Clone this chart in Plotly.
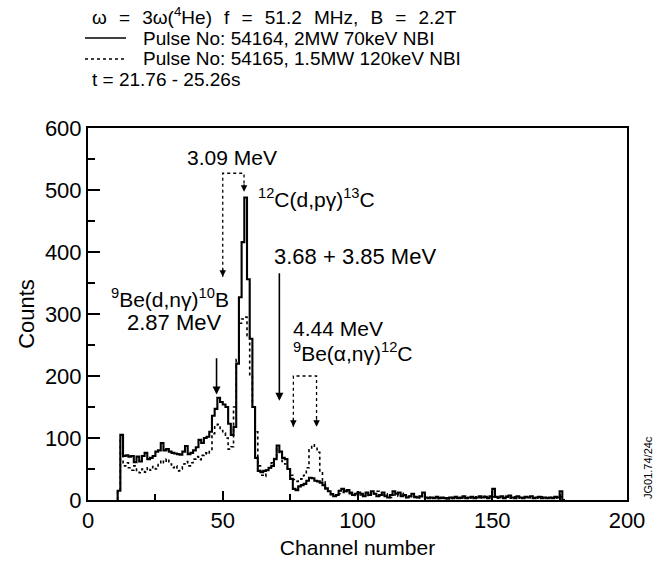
import plotly.graph_objects as go

# ---------------- data ----------------
channels = list(range(11, 177))

pulse_54164 = [
    15, 105, 71, 72, 70, 71, 61, 70, 62, 71,
    76, 66, 68, 71, 78, 80, 92, 80, 82, 78,
    76, 75, 74, 73, 78, 87, 74, 76, 80, 85,
    97, 92, 100, 102, 110, 136, 147, 165, 158, 154,
    150, 123, 105, 118, 220, 327, 416, 488, 356, 260,
    150, 68, 47, 45, 47, 48, 52, 55, 66, 88,
    78, 68, 66, 50, 34, 18, 16, 22, 24, 26,
    31, 36, 35, 31, 30, 28, 24, 19, 14, 9,
    6, 8, 15, 18, 14, 16, 12, 8, 10, 12,
    10, 6, 12, 8, 14, 10, 6, 8, 12, 6,
    4, 8, 14, 10, 12, 6, 8, 4, 6, 10,
    5, 4, 6, 12, 4, 3, 4, 3, 5, 3,
    4, 3, 2, 4, 3, 5, 3, 4, 6, 3,
    4, 5, 3, 4, 6, 4, 5, 3, 6, 18,
    5, 4, 6, 3, 5, 7, 4, 3, 6, 4,
    3, 5, 4, 6, 3, 4, 5, 3, 4, 3,
    4, 3, 5, 4, 14, 0,
]

pulse_54165 = [
    15, 100, 55, 60, 52, 48, 55, 46, 44, 50,
    45, 52, 48, 54, 50, 60, 64, 60, 66, 58,
    52, 55, 47, 50, 58, 62, 55, 60, 66, 70,
    65, 72, 76, 74, 80, 107, 118, 122, 112, 108,
    100, 82, 86, 150, 227, 285, 292, 295, 265, 200,
    150, 110, 55, 40, 38, 48, 52, 60, 70, 82,
    75, 62, 58, 48, 40, 33, 30, 32, 34, 40,
    52, 81, 89, 85, 77, 47, 31, 18, 14, 10,
    8, 6, 10, 12, 16, 12, 10, 8, 6, 10,
    8, 10, 6, 12, 8, 10, 14, 6, 8, 10,
    6, 4, 8, 10, 6, 12, 8, 4, 6, 5,
    4, 6, 3, 8, 4, 3, 5, 3, 4, 2,
    3, 4, 3, 2, 4, 3, 4, 3, 5, 3,
    3, 4, 5, 3, 4, 3, 6, 4, 3, 5,
    4, 3, 5, 4, 6, 3, 4, 5, 3, 4,
    5, 3, 4, 6, 3, 4, 3, 5, 4, 3,
    4, 3, 4, 3, 5, 0,
]

x_ticks = [0, 50, 100, 150, 200]
y_ticks = [0, 100, 200, 300, 400, 500, 600]

title_lines = [
    "ω = 3ω(<sup>4</sup>He) f = 51.2 MHz, B = 2.2T",
    "Pulse No: 54164, 2MW 70keV NBI",
    "Pulse No: 54165, 1.5MW 120keV NBI",
    "t = 21.76 - 25.26s",
]

# peak labels: (text, channel, counts, xanchor, font size)
peak_labels = [
    ("3.09 MeV", 53.4, 552, "center", 21),
    ("<sup>12</sup>C(d,pγ)<sup>13</sup>C", 62.5, 487, "left", 21),
    ("3.68 + 3.85 MeV", 68.3, 392, "left", 22),
    ("<sup>9</sup>Be(d,nγ)<sup>10</sup>B", 30.4, 326, "center", 21),
    ("2.87 MeV", 32.0, 287, "center", 22),
    ("4.44 MeV", 75.4, 277, "left", 21),
    ("<sup>9</sup>Be(α,nγ)<sup>12</sup>C", 75.4, 239, "left", 21),
]
# solid arrows: (channel, from counts, to counts)
solid_arrows = [(47.7, 231, 170), (71.0, 368, 160)]
# dotted brackets: (left ch, right ch, top, left tip, right tip)
brackets = [(50.0, 57.9, 527, 360, 497), (76.2, 84.8, 200, 118, 118)]


def steps(xv, yv):
    return [xv[0]] + xv + [xv[-1] + 1], [0] + yv + [0]


FONT = "Liberation Sans, Arial, sans-serif"
fig = go.Figure()

sx, sy = steps(channels, pulse_54165)
fig.add_trace(go.Scatter(x=sx, y=sy, mode="lines", line_shape="hv",
                         line=dict(color="black", width=1.6, dash="dot"),
                         name=title_lines[2], showlegend=False))
sx, sy = steps(channels, pulse_54164)
fig.add_trace(go.Scatter(x=sx, y=sy, mode="lines", line_shape="hv",
                         line=dict(color="black", width=2.1),
                         name=title_lines[1], showlegend=False))

W, H = 657, 561
ML, MR, MT, MB = 88, 30, 128, 61
PW, PH = W - ML - MR, H - MT - MB


def px(xp):
    return (xp - ML) / PW


def py(yp):
    return (H - MB - yp) / PH


annotations = []
shapes = []

# header text (line 1 is widely spaced in the reference)
wide = title_lines[0].replace(" ", "\u00a0\u00a0\u200a")
header_rows = [(90, 16, wide), (141, 38, title_lines[1]),
               (141, 59, title_lines[2]), (90, 80, title_lines[3])]
for xpx, ypx, txt in header_rows:
    annotations.append(dict(text=txt, xref="paper", yref="paper", x=px(xpx), y=py(ypx),
                            xanchor="left", yanchor="middle", showarrow=False,
                            font=dict(size=19, color="black", family=FONT)))
shapes.append(dict(type="line", xref="paper", yref="paper", x0=px(85), x1=px(126),
                   y0=py(38), y1=py(38), line=dict(color="black", width=1.4)))
shapes.append(dict(type="line", xref="paper", yref="paper", x0=px(85), x1=px(126),
                   y0=py(59), y1=py(59), line=dict(color="black", width=1.4, dash="dot")))

for txt, cx, cy, anc, fs in peak_labels:
    annotations.append(dict(text=txt, x=cx, y=cy, xanchor=anc, yanchor="middle",
                            showarrow=False, font=dict(size=fs, color="black", family=FONT)))

for ch, y0, y1 in solid_arrows:
    annotations.append(dict(text="", x=ch, y=y1, ax=ch, ay=y0, axref="x", ayref="y",
                            showarrow=True, arrowhead=2, arrowsize=1, arrowwidth=1.6,
                            arrowcolor="black"))

for xl, xr, top, tl, tr in brackets:
    shapes.append(dict(type="path", path=f"M {xl},{tl} V {top} H {xr} V {tr}",
                       line=dict(color="black", width=1.3, dash="dot")))
    for ch, tip in ((xl, tl), (xr, tr)):
        annotations.append(dict(text="", x=ch, y=tip, ax=0, ay=-9, showarrow=True,
                                arrowhead=2, arrowsize=1, arrowwidth=1.3,
                                arrowcolor="black"))

annotations.append(dict(text="JG01.74/24c", xref="paper", yref="paper",
                        x=px(648), y=py(468), textangle=-90, showarrow=False,
                        xanchor="center", yanchor="middle",
                        font=dict(size=11, color="black", family=FONT)))

fig.update_layout(
    width=W, height=H,
    margin=dict(l=ML, r=MR, t=MT, b=MB, pad=0),
    paper_bgcolor="white", plot_bgcolor="white",
    font=dict(family=FONT, color="black", size=20),
    annotations=annotations, shapes=shapes,
    showlegend=False,
)
fig.update_xaxes(range=[0, 200], tickvals=x_ticks, ticks="inside", ticklen=9,
                 tickwidth=1.5, tickcolor="black", showline=True, linecolor="black",
                 linewidth=2, mirror=True, showgrid=False, zeroline=False,
                 tickfont=dict(size=22), automargin=False,
                 minor=dict(tickvals=[25, 75, 125, 175], ticks="inside", ticklen=6,
                            tickwidth=1.5, tickcolor="black", showgrid=False),
                 title=dict(text="Channel number", font=dict(size=21), standoff=8))
fig.update_yaxes(range=[0, 600], tickvals=y_ticks, ticks="inside", ticklen=12,
                 tickwidth=1.5, tickcolor="black", showline=True, linecolor="black",
                 linewidth=2, mirror=True, showgrid=False, zeroline=False,
                 tickfont=dict(size=22), automargin=False,
                 minor=dict(tickvals=[50, 150, 250, 350, 450, 550], ticks="inside",
                            ticklen=7, tickwidth=1.5, tickcolor="black", showgrid=False),
                 title=dict(text="Counts", font=dict(size=22), standoff=4))

fig.write_html("out.html")
